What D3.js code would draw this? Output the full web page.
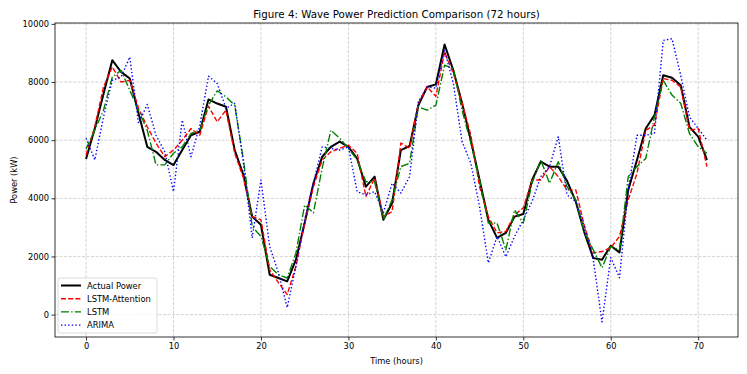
<!DOCTYPE html>
<html>
<head>
<meta charset="utf-8">
<script src="https://cdn.jsdelivr.net/npm/d3@7"></script>
<style>
  body { margin: 0; background: #fff; }
  svg text { font-family: "DejaVu Sans", sans-serif; fill: #000; }
</style>
</head>
<body>
<div id="main"></div>
<script>
// values, hours 0..71
const hours = d3.range(72);

const actualPower = [5350, 6400, 7600, 8750, 8350, 8120, 6930, 5770, 5600, 5320,
  5145, 5660, 6170, 6290, 7400, 7260, 7150, 5660, 4800, 3370,
  3090, 1370, 1260, 1145, 1890, 3150, 4520, 5430, 5770, 5950,
  5770, 5370, 4400, 4745, 3260, 3840, 5660, 5800, 7200, 7830,
  7920, 9290, 8400, 7270, 6000, 4630, 3260, 2640, 2810, 3370,
  3460, 4630, 5260, 5090, 5090, 4600, 3890, 2810, 1945, 1890,
  2370, 2140, 4290, 5320, 6400, 6860, 8230, 8150, 7890, 6460,
  6120, 5320];

const lstmAttention = [5500, 6460, 7830, 8520, 8000, 8060, 7100, 6460, 5900, 5430,
  5660, 6000, 6400, 6170, 7170, 6630, 7030, 5550, 4700, 3370,
  3260, 1540, 1100, 690, 1660, 3150, 4400, 5320, 5600, 5720,
  5830, 5550, 4060, 4700, 3370, 3540, 5900, 5730, 7270, 7830,
  7510, 9030, 8300, 7270, 6170, 4400, 3370, 2810, 2860, 3430,
  3670, 4630, 4630, 5090, 4745, 4290, 4290, 3030, 2120, 2170,
  2300, 2690, 3950, 4860, 6340, 6520, 8120, 8060, 7830, 6340,
  6400, 5090];

const lstm = [5700, 6350, 7030, 8170, 8400, 7720, 7030, 6340, 5150, 5150,
  5550, 5770, 6230, 6340, 7200, 7700, 7490, 7200, 5320, 3030,
  2690, 1660, 1370, 1260, 2120, 3770, 3500, 5040, 6340, 6070,
  5720, 5320, 4570, 4570, 3260, 3950, 5090, 5210, 7150, 7030,
  7200, 8580, 8460, 7030, 5900, 4630, 3150, 3150, 2230, 3600,
  3150, 4520, 5320, 4520, 5260, 4400, 3950, 2810, 2230, 1610,
  2340, 2230, 4745, 5090, 5370, 6800, 8060, 7550, 7270, 6230,
  5770, 5550];

const arima = [6070, 5320, 6800, 8060, 8170, 8860, 6580, 7230, 6170, 5600,
  4230, 6690, 5430, 6500, 8200, 7950, 7100, 7270, 5210, 2640,
  4630, 2340, 1440, 240, 1660, 3260, 4520, 5770, 5720, 5660,
  5770, 4230, 4120, 4230, 3500, 4520, 4180, 4745, 7320, 7830,
  7790, 9090, 7950, 5950, 5210, 3710, 1780, 2690, 1990, 2690,
  3260, 3890, 4745, 5090, 6120, 4120, 3890, 3030, 1890, -250,
  1960, 1270, 4290, 6170, 6170, 6230, 9430, 9490, 8230, 6800,
  6400, 6000];

const seriesNames = ['Actual Power', 'LSTM-Attention', 'LSTM', 'ARIMA'];
const xTicks = [0, 10, 20, 30, 40, 50, 60, 70];
const yTicks = [0, 2000, 4000, 6000, 8000, 10000];

const W = 747, H = 374;
const margin = {top: 23, right: 9, bottom: 37, left: 55};

const svg = d3.select('#main').append('svg')
  .attr('width', W).attr('height', H);

const x = d3.scaleLinear().domain([-3.55, 74.55]).range([margin.left, W - margin.right]);
const y = d3.scaleLinear().domain([-770, 10030]).range([H - margin.bottom, margin.top]);

// grid
const grid = svg.append('g');
grid.selectAll('line.vx').data(xTicks).join('line')
  .attr('x1', d => x(d)).attr('x2', d => x(d))
  .attr('y1', margin.top).attr('y2', H - margin.bottom)
  .attr('stroke', '#b0b0b0').attr('stroke-opacity', 0.7)
  .attr('stroke-width', 0.8).attr('stroke-dasharray', '3,1.5');
grid.selectAll('line.hy').data(yTicks).join('line')
  .attr('x1', margin.left).attr('x2', W - margin.right)
  .attr('y1', d => y(d)).attr('y2', d => y(d))
  .attr('stroke', '#b0b0b0').attr('stroke-opacity', 0.7)
  .attr('stroke-width', 0.8).attr('stroke-dasharray', '3,1.5');

// series
const styles = [
  {data: actualPower, color: '#000000', width: 2, dash: null},
  {data: lstmAttention, color: '#ff0000', width: 1.4, dash: '5,2.2'},
  {data: lstm, color: '#008000', width: 1.4, dash: '8,2.2,1.4,2.2'},
  {data: arima, color: '#0000ff', width: 1.4, dash: '1.4,2.2'}
];
const line = d3.line().x((d, i) => x(hours[i])).y(d => y(d));

styles.forEach(s => {
  svg.append('path')
    .datum(s.data)
    .attr('d', line)
    .attr('fill', 'none')
    .attr('stroke', s.color)
    .attr('stroke-width', s.width)
    .attr('stroke-dasharray', s.dash)
    .attr('stroke-linejoin', 'round');
});

// frame
svg.append('rect')
  .attr('x', margin.left).attr('y', margin.top)
  .attr('width', W - margin.left - margin.right)
  .attr('height', H - margin.top - margin.bottom)
  .attr('fill', 'none').attr('stroke', '#000').attr('stroke-width', 0.8);

// axes
const xAxis = svg.append('g')
  .attr('transform', `translate(0,${H - margin.bottom})`)
  .call(d3.axisBottom(x).tickValues(xTicks).tickSize(3.5).tickPadding(2.5));
const yAxis = svg.append('g')
  .attr('transform', `translate(${margin.left},0)`)
  .call(d3.axisLeft(y).tickValues(yTicks).tickSize(3.5).tickPadding(2.5).tickFormat(d3.format('d')));
[xAxis, yAxis].forEach(a => {
  a.select('.domain').remove();
  a.selectAll('text').style('font-size', '8.3px').attr('fill', '#000');
  a.selectAll('line').attr('stroke', '#000').attr('stroke-width', 0.8);
});

// labels
svg.append('text')
  .attr('x', (margin.left + W - margin.right) / 2).attr('y', 18)
  .attr('text-anchor', 'middle').style('font-size', '10.3px')
  .text('Figure 4: Wave Power Prediction Comparison (72 hours)');
svg.append('text')
  .attr('x', (margin.left + W - margin.right) / 2).attr('y', H - 10)
  .attr('text-anchor', 'middle').style('font-size', '8.3px')
  .text('Time (hours)');
svg.append('text')
  .attr('transform', `translate(17,${(margin.top + H - margin.bottom) / 2}) rotate(-90)`)
  .attr('text-anchor', 'middle').style('font-size', '8.3px')
  .text('Power (kW)');

// legend
const lg = svg.append('g').attr('transform', 'translate(58,278)');
lg.append('rect')
  .attr('width', 99).attr('height', 55).attr('rx', 2)
  .attr('fill', '#fff').attr('fill-opacity', 0.8)
  .attr('stroke', '#d0d0d0').attr('stroke-width', 0.8);
seriesNames.forEach((name, i) => {
  const yy = 7.5 + i * 13.2;
  lg.append('line')
    .attr('x1', 3).attr('x2', 23).attr('y1', yy).attr('y2', yy)
    .attr('stroke', styles[i].color).attr('stroke-width', styles[i].width)
    .attr('stroke-dasharray', styles[i].dash);
  lg.append('text')
    .attr('x', 29).attr('y', yy + 3).style('font-size', '8.4px')
    .text(name);
});
</script>
</body>
</html>
